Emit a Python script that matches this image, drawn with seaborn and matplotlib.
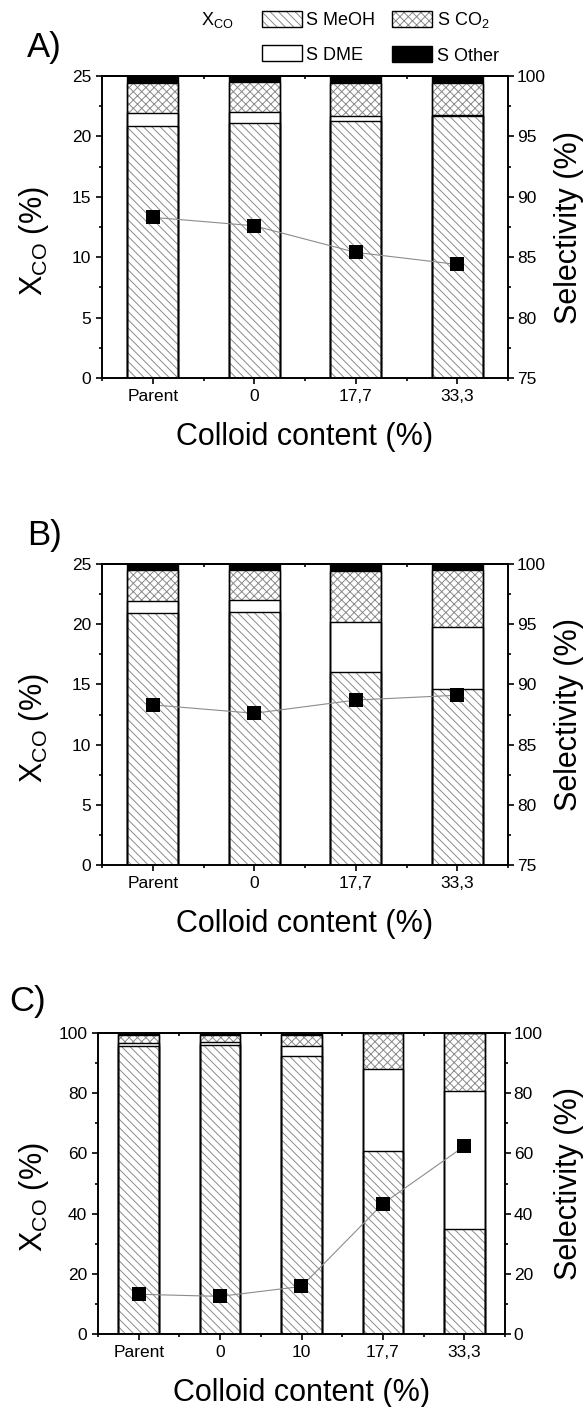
import numpy as np
import pandas as pd
import matplotlib
matplotlib.use("Agg")
import matplotlib.pyplot as plt
import seaborn as sns
from matplotlib.ticker import FixedLocator, MultipleLocator, NullFormatter
from matplotlib.patches import Patch
from matplotlib.lines import Line2D
from matplotlib.legend_handler import HandlerTuple

# ---------------- data ----------------
cats_ab = ["Parent", "0", "17,7", "33,3"]
cats_c = ["Parent", "0", "10", "17,7", "33,3"]

a_meoh = [95.9, 96.1, 96.3, 96.65]
a_dme = [1.0, 0.9, 0.35, 0.1]
a_co2 = [2.55, 2.5, 2.75, 2.65]
a_other = [0.55, 0.5, 0.6, 0.6]
a_xco = [13.3, 12.6, 10.4, 9.4]

b_meoh = [95.9, 96.05, 91.0, 89.6]
b_dme = [1.0, 0.95, 4.2, 5.2]
b_co2 = [2.6, 2.5, 4.25, 4.7]
b_other = [0.5, 0.5, 0.55, 0.5]
b_xco = [13.3, 12.6, 13.7, 14.1]

c_meoh = [95.7, 96.0, 92.2, 60.7, 35.0]
c_dme = [1.0, 1.0, 3.6, 27.4, 45.8]
c_co2 = [2.6, 2.4, 3.6, 11.9, 19.2]
c_other = [0.7, 0.6, 0.6, 0.0, 0.0]
c_xco = [13.2, 12.5, 15.8, 43.3, 62.4]

# ---------------- style ----------------
sns.set_theme(style="ticks")
plt.rcParams["font.family"] = ["Liberation Sans", "DejaVu Sans"]
plt.rcParams["mathtext.fontset"] = "custom"
plt.rcParams["mathtext.rm"] = "Liberation Sans"
plt.rcParams["mathtext.it"] = "Liberation Sans:italic"
plt.rcParams["hatch.linewidth"] = 0.7
plt.rcParams["axes.linewidth"] = 1.2
for k in ["text.color", "axes.labelcolor", "xtick.color", "ytick.color",
          "axes.edgecolor", "xtick.labelcolor", "ytick.labelcolor"]:
    plt.rcParams[k] = "black"

W, H = 588, 1407
fig = plt.figure(figsize=(W / 100, H / 100), dpi=100)

HATCH_GRAY = "#8a8a8a"
DIAG = "\\\\\\\\"
CROSS = "xxxx"


def rect(left, right, top, bottom):
    return [left / W, 1 - bottom / H, (right - left) / W, (bottom - top) / H]


def panel(r, cats, meoh, dme, co2, other, xco, sel_lim, sel_major, sel_minor,
          x_lim, x_major, x_minor):
    ax = fig.add_axes(r)
    meoh = np.array(meoh)
    dme = np.array(dme)
    co2 = np.array(co2)
    other = np.array(other)
    df = pd.DataFrame({
        "cat": cats,
        "l1": meoh,
        "l2": meoh + dme,
        "l3": meoh + dme + co2,
        "l4": meoh + dme + co2 + other,
    })
    layers = [("l4", "black", None), ("l3", "white", CROSS),
              ("l2", "white", None), ("l1", "white", DIAG)]
    for col, fc, hatch in layers:
        n0 = len(ax.patches)
        sns.barplot(data=df, x="cat", y=col, color=fc, saturation=1, width=0.5,
                    errorbar=None, linewidth=0, ax=ax, zorder=1)
        for p in ax.patches[n0:]:
            p.set_facecolor(fc)
            if hatch:
                p.set_hatch(hatch)
                p.set_edgecolor(HATCH_GRAY)
            p.set_linewidth(0)
    for col, _, _ in layers:
        sns.barplot(data=df, x="cat", y=col, color="black", fill=False, width=0.5,
                    errorbar=None, linewidth=1.0, ax=ax, zorder=2)
    ax.set_xlabel("")
    ax.set_ylabel("")

    ax2 = ax.twinx()
    xpos = np.arange(len(cats))
    sns.lineplot(x=xpos, y=xco, ax=ax2, color="#8c8c8c", linewidth=0.8, zorder=3)
    sns.scatterplot(x=xpos, y=xco, ax=ax2, marker="s", s=90, color="black",
                    linewidth=0, zorder=4)

    # selectivity axis (bars) -> right side
    ax.set_ylim(*sel_lim)
    ax.set_xlim(-0.5, len(cats) - 0.5)
    ax.yaxis.set_major_locator(MultipleLocator(sel_major))
    ax.yaxis.set_minor_locator(MultipleLocator(sel_minor))
    ax.xaxis.set_minor_locator(FixedLocator(np.arange(-0.5, len(cats), 1.0)))
    ax.tick_params(axis="x", which="major", direction="out", length=4.3, width=1.2,
                   labelsize=12.5, pad=3.5, top=False, bottom=True)
    ax.tick_params(axis="x", which="minor", direction="out", length=2.2, width=1.2,
                   top=False, bottom=True)
    ax.tick_params(axis="y", which="both", left=False, right=True,
                   labelleft=False, labelright=True)
    ax.tick_params(axis="y", which="major", direction="out", length=4.3, width=1.2,
                   labelsize=12.5, pad=2.0)
    ax.tick_params(axis="y", which="minor", direction="out", length=2.2, width=1.2)

    # top ticks pointing inward
    sec = ax.secondary_xaxis("top")
    sec.set_xticks(range(len(cats)))
    sec.xaxis.set_minor_locator(FixedLocator(np.arange(-0.5, len(cats), 1.0)))
    sec.xaxis.set_major_formatter(NullFormatter())
    sec.tick_params(which="major", direction="in", length=4.3, width=1.2)
    sec.tick_params(which="minor", direction="in", length=2.2, width=1.2)

    # conversion axis (line) -> left side
    ax2.set_ylim(*x_lim)
    ax2.set_xlim(-0.5, len(cats) - 0.5)
    ax2.yaxis.set_major_locator(MultipleLocator(x_major))
    ax2.yaxis.set_minor_locator(MultipleLocator(x_minor))
    ax2.tick_params(axis="y", which="both", left=True, right=False,
                    labelleft=True, labelright=False)
    ax2.tick_params(axis="y", which="major", direction="out", length=4.3, width=1.2,
                    labelsize=12.5, pad=3.5)
    ax2.tick_params(axis="y", which="minor", direction="out", length=2.2, width=1.2)
    ax2.set_xlabel("")
    ax2.set_ylabel("")
    for a in (ax, ax2):
        for s in a.spines.values():
            s.set_linewidth(1.2)
            s.set_edgecolor("black")
    return ax, ax2


XLAB = "Colloid content (%)"
YL = "X$_{\\mathrm{CO}}$ (%)"
YR = "Selectivity (%)"

panels = [
    (rect(102, 508, 76, 378), cats_ab, a_meoh, a_dme, a_co2, a_other, a_xco,
     (75, 100), 5, 2.5, (0, 25), 5, 2.5, "A)", (44, 48)),
    (rect(102, 508, 564, 865), cats_ab, b_meoh, b_dme, b_co2, b_other, b_xco,
     (75, 100), 5, 2.5, (0, 25), 5, 2.5, "B)", (44, 536)),
    (rect(98, 505, 1033, 1334), cats_c, c_meoh, c_dme, c_co2, c_other, c_xco,
     (0, 100), 20, 10, (0, 100), 20, 10, "C)", (28, 1002)),
]

for (r, cats, me, dm, co, ot, xc, sl, smj, smn, xl, xmj, xmn, lab, lxy) in panels:
    panel(r, cats, me, dm, co, ot, xc, sl, smj, smn, xl, xmj, xmn)
    left = r[0] * W
    right = (r[0] + r[2]) * W
    top = (1 - r[1] - r[3]) * H
    bottom = (1 - r[1]) * H
    fig.text(lxy[0] / W, 1 - lxy[1] / H, lab, fontsize=25, ha="center", va="center")
    fig.text((left + right) / 2 / W, 1 - (bottom + 59) / H, XLAB, fontsize=22,
             ha="center", va="center")
    fig.text(34 / W, 1 - ((top + bottom) / 2 + 14) / H, YL, fontsize=22,
             ha="center", va="center", rotation=90)
    fig.text(569 / W, 1 - ((top + bottom) / 2) / H, YR, fontsize=22,
             ha="center", va="center", rotation=90)

# ---------------- legend ----------------
h_x = Line2D([], [], linestyle="none")
h_blank = Line2D([], [], linestyle="none")
h_meoh = (Patch(facecolor="white", edgecolor=HATCH_GRAY, hatch=DIAG, linewidth=0),
          Patch(facecolor="none", edgecolor="black", linewidth=1.0))
h_dme = Patch(facecolor="white", edgecolor="black", linewidth=1.0)
h_co2 = (Patch(facecolor="white", edgecolor=HATCH_GRAY, hatch=CROSS, linewidth=0),
         Patch(facecolor="none", edgecolor="black", linewidth=1.0))
h_oth = Patch(facecolor="black", edgecolor="black", linewidth=1.0)
handles = [h_x, h_blank, h_meoh, h_dme, h_co2, h_oth]
labels = ["X$_{\\mathrm{CO}}$   ", "", "S MeOH", "S DME", "S CO$_2$", "S Other"]
fig.legend(handles, labels, ncol=3, loc="upper left",
           bbox_to_anchor=(157 / W, 1 - 10 / H), frameon=False, fontsize=13,
           handlelength=2.2, handleheight=1.0, handletextpad=0.25,
           columnspacing=0.95, labelspacing=0.9, borderpad=0, borderaxespad=0,
           handler_map={tuple: HandlerTuple(ndivide=1, pad=0)})

fig.savefig("out.png", dpi=100)
